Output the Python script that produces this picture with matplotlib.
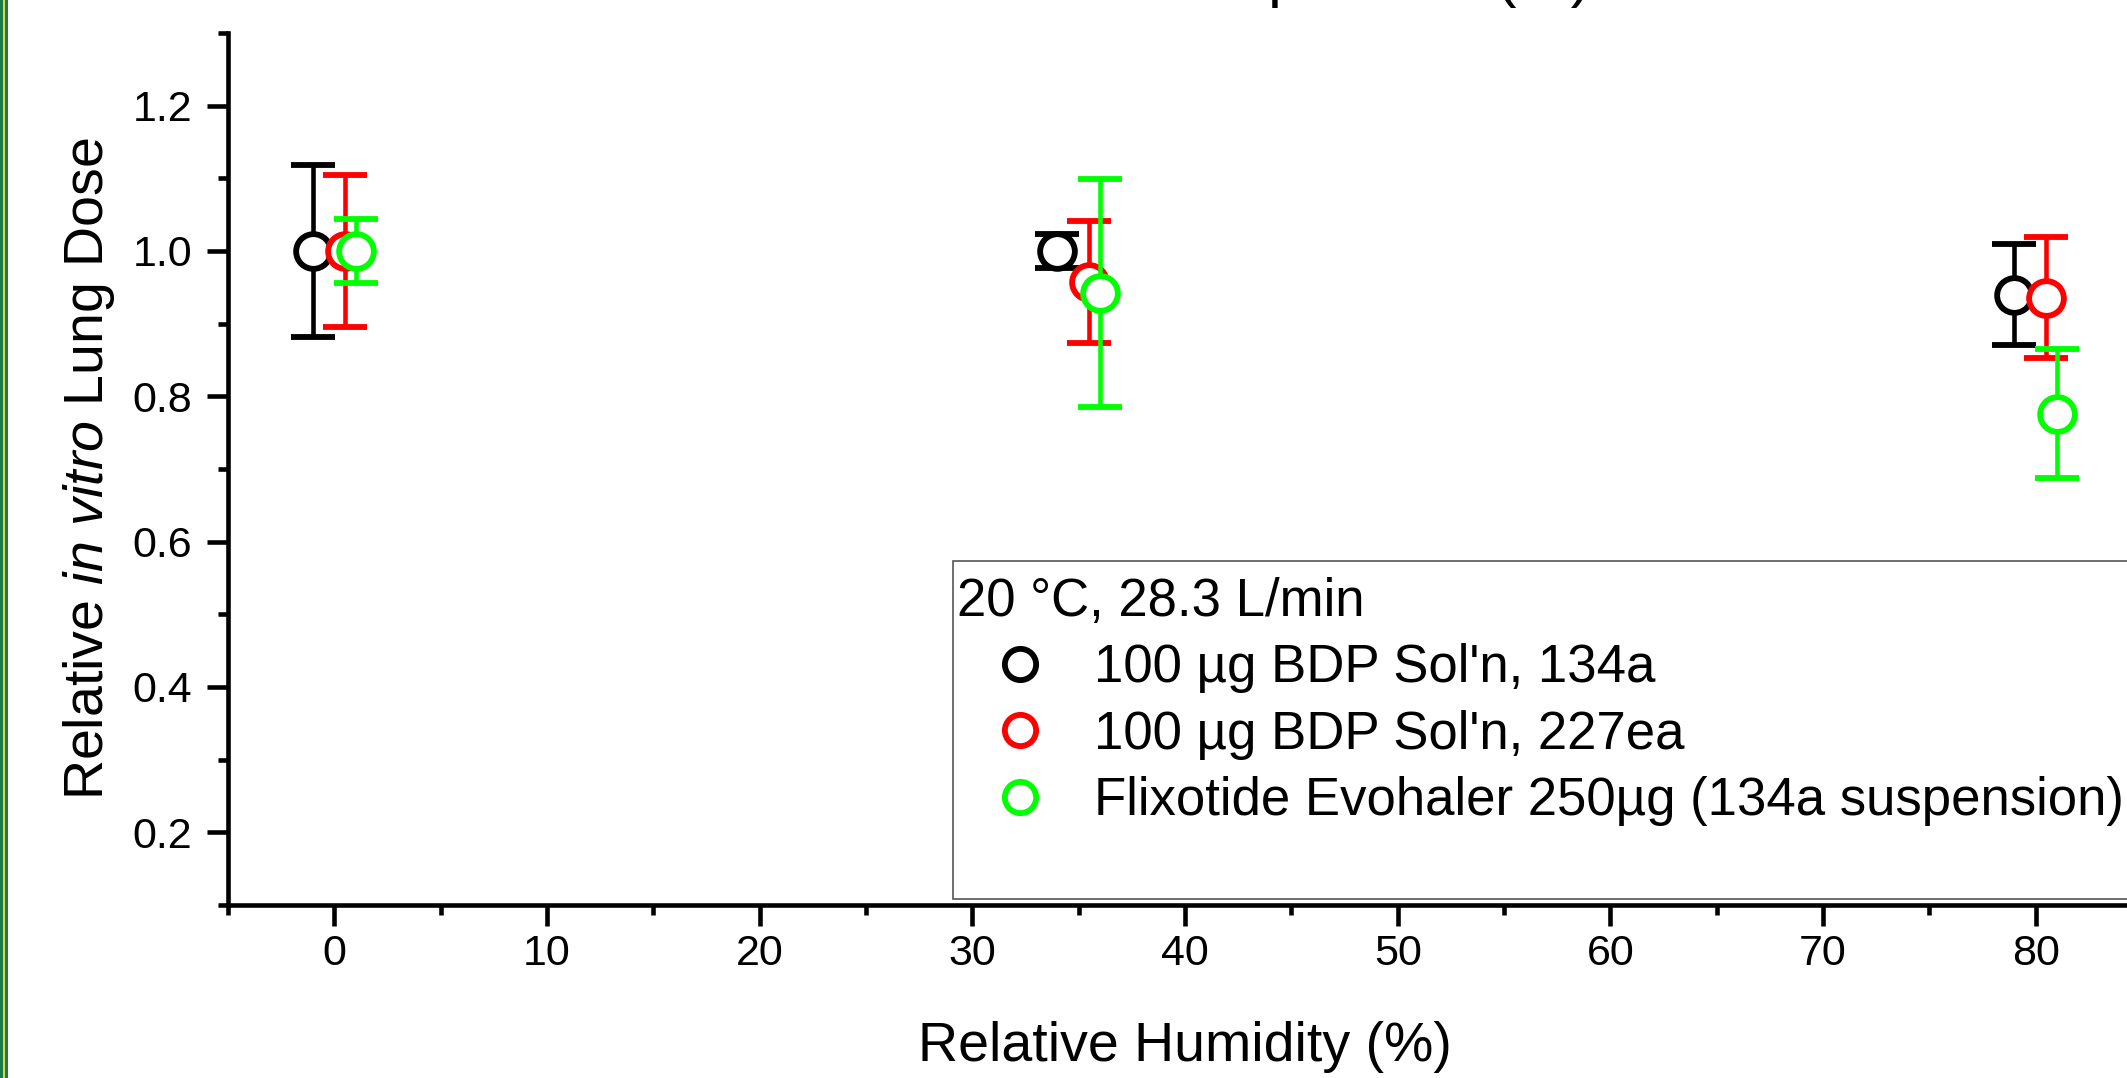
import matplotlib
matplotlib.use("Agg")
import matplotlib.pyplot as plt
from matplotlib.patches import Rectangle

plt.rcParams['font.family'] = ['Liberation Sans', 'DejaVu Sans']
plt.rcParams['mathtext.fontset'] = 'custom'
plt.rcParams['mathtext.rm'] = 'Liberation Sans'
plt.rcParams['mathtext.it'] = 'Liberation Sans:italic'

# data (x slightly offset per series, as in the original)
series = ["100 µg BDP Sol'n, 134a", "100 µg BDP Sol'n, 227ea",
          "Flixotide Evohaler 250µg (134a suspension)"]
colours = ['#000000', '#ff0000', '#00ff00']

rh_134a = [-1, 34, 79]
dose_134a = [1.0, 1.0, 0.940]
err_134a = [0.118, 0.023, 0.070]

rh_227ea = [0.5, 35.5, 80.5]
dose_227ea = [1.0, 0.957, 0.936]
err_227ea = [0.104, 0.084, 0.083]

rh_flix = [1, 36, 81]
dose_flix = [1.0, 0.942, 0.776]
err_flix = [0.044, 0.157, 0.089]

W, H = 2127, 1078
fig = plt.figure(figsize=(W / 100, H / 100), dpi=100)

# axes placed in pixels; right edge falls just outside the (cropped) picture
ax = fig.add_axes([228 / W, (H - 905) / H, (2142 - 228) / W, (905 - 33) / H])

data = [(rh_134a, dose_134a, err_134a),
        (rh_227ea, dose_227ea, err_227ea),
        (rh_flix, dose_flix, err_flix)]
handles = []
for i, ((x, y, e), c, lab) in enumerate(zip(data, colours, series)):
    cont = ax.errorbar(x, y, yerr=e, fmt='o', color=c, ecolor=c,
                       mfc='white', mec=c, ms=25, mew=4.2,
                       elinewidth=3.3, capsize=15.5, capthick=3.3,
                       label=lab, zorder=3 + i)
    handles.append(cont[0])

ax.set_xlim(-5, 85)
ax.set_ylim(0.1, 1.3)
ax.set_xticks(range(0, 90, 10))
ax.set_xticks(range(-5, 90, 10), minor=True)
ax.set_yticks([0.2, 0.4, 0.6, 0.8, 1.0, 1.2])
ax.set_yticks([0.1, 0.3, 0.5, 0.7, 0.9, 1.1, 1.3], minor=True)
ax.yaxis.set_major_formatter(matplotlib.ticker.FormatStrFormatter('%.1f'))

for s in ['top', 'right']:
    ax.spines[s].set_visible(False)
for s in ['left', 'bottom']:
    ax.spines[s].set_linewidth(3.3)

ax.tick_params(which='major', direction='out', length=15, width=3.3,
               labelsize=31)
ax.tick_params(which='minor', direction='out', length=7.5, width=3.3)
ax.tick_params(axis='y', which='major', pad=11)
ax.tick_params(axis='x', which='major', pad=6)

ax.set_xlabel('Relative Humidity (%)', fontsize=40, labelpad=34)
ax.set_ylabel(r'Relative $\mathit{in}$ $\mathit{vitro}$ Lung Dose',
              fontsize=40, labelpad=11)

# legend frame (runs off the right edge like the original)
fig.patches.append(Rectangle((953 / W, (H - 899) / H), (2160 - 953) / W,
                             (899 - 561) / H, transform=fig.transFigure,
                             facecolor='white', edgecolor='#555555',
                             linewidth=1.2, zorder=10))

leg = fig.legend(handles=handles, labels=series, title='20 °C, 28.3 L/min',
                 loc='upper left', bbox_to_anchor=(957 / W, (H - 577) / H),
                 frameon=False, fontsize=38, title_fontsize=38,
                 handlelength=2.4, handletextpad=0.2, labelspacing=0.31,
                 borderpad=0, borderaxespad=0, alignment='left',
                 markerscale=0.9)
leg.set_zorder(11)

# partly visible title from the cropped original
fig.text(1190 / W, 1 + 5 / H, 'Deposition (%)', fontsize=44, ha='left',
         va='baseline')

# green/yellow frame stripe on the left edge
for x0, w, col in [(0, 8, '#1e7b4e'), (2.7, 2.0, '#d8d84a')]:
    fig.patches.append(Rectangle((x0 / W, 0), w / W, 1,
                                 transform=fig.transFigure,
                                 facecolor=col, edgecolor='none'))

fig.savefig('out.png', dpi=100)
